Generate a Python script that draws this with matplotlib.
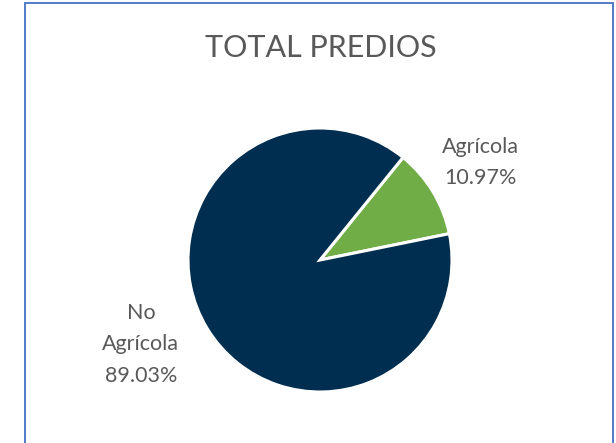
import matplotlib
matplotlib.use("Agg")
import numpy as np
from matplotlib import pyplot as plt
from matplotlib.patches import Rectangle

plt.rcParams['font.family'] = ['Lato', 'DejaVu Sans']

title = "TOTAL PREDIOS"
categories = ["Agrícola", "No\nAgrícola"]
values = [10.97, 89.03]
colors = ["#70AD47", "#002E50"]
label_dist = [1.42, 1.5]
label_shift = [0, -6]   # degrees, nudges the outer label

W, H = 616, 443
fig = plt.figure(figsize=(W / 100, H / 100), dpi=100)

# chart border (Excel style)
fig.patches.append(Rectangle((24.5 / W, -0.05), 588 / W, 1.05 - 3.5 / H,
                             transform=fig.transFigure, fill=False,
                             edgecolor="#4472C4", linewidth=1.3))

cx, cy, r = 320, H - 260, 132
ax = fig.add_axes([(cx - r) / W, (cy - r) / H, 2 * r / W, 2 * r / H])
wedges, _ = ax.pie(values, colors=colors, startangle=51, counterclock=False,
                   wedgeprops=dict(edgecolor="white", linewidth=2.2))
ax.set_xlim(-1, 1)
ax.set_ylim(-1, 1)

for w, name, val, d, s in zip(wedges, categories, values, label_dist, label_shift):
    mid = np.deg2rad((w.theta1 + w.theta2) / 2 + s)
    ax.text(d * np.cos(mid), d * np.sin(mid), "%s\n%.2f%%" % (name, val),
            ha="center", va="center", fontsize=15.5, color="#595959",
            linespacing=1.7, clip_on=False)

fig.text(321 / W, 1 - 48 / H, title, ha="center", va="center",
         fontsize=22, color="#595959")

plt.savefig("out.png", dpi=100)
